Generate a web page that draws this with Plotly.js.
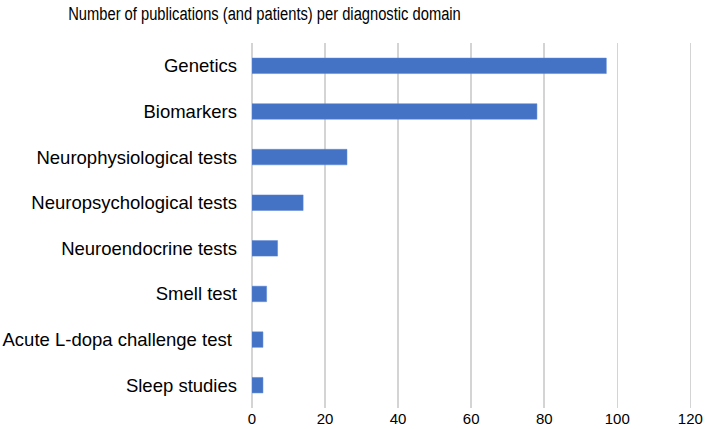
<!DOCTYPE html>
<html>
<head>
<meta charset="utf-8">
<script src="https://cdn.plot.ly/plotly-3.0.1.min.js"></script>
<style>html,body{margin:0;padding:0;background:#fff;}#chart{width:709px;height:429px;}</style>
</head>
<body>
<div id="chart"></div>
<script>
const categories = [
  "Genetics",
  "Biomarkers",
  "Neurophysiological tests",
  "Neuropsychological tests",
  "Neuroendocrine tests",
  "Smell test",
  "Acute L-dopa challenge test ",
  "Sleep studies"
];
const publications = [97, 78, 26, 14, 7, 4, 3, 3];
const xTicks = [0, 20, 40, 60, 80, 100, 120];
const titleText = "Number of publications (and patients) per diagnostic domain";

const trace = {
  type: "bar",
  orientation: "h",
  y: categories,
  x: publications,
  marker: {color: "#4472C4", line: {color: "#5b86d6", width: 0.5}},
  hoverinfo: "x+y"
};

const titleCx = 264.5;

const layout = {
  width: 709,
  height: 429,
  paper_bgcolor: "#fff",
  plot_bgcolor: "#fff",
  margin: {l: 252, r: 15, t: 43, b: 21},
  bargap: 0.66,
  showlegend: false,
  title: {
    text: titleText,
    font: {family: "Liberation Sans, Arial, sans-serif", size: 19, color: "#000"},
    xref: "container", x: titleCx/709, xanchor: "center",
    yref: "container", y: 1 - 13.5/429, yanchor: "middle"
  },
  xaxis: {
    range: [0, 121],
    tickvals: xTicks,
    ticktext: xTicks.map(String),
    showgrid: true,
    gridcolor: "#d4d4d4",
    gridwidth: 1.5,
    zeroline: true,
    zerolinecolor: "#d4d4d4",
    zerolinewidth: 1.5,
    showline: false,
    ticks: "",
    tickfont: {family: "Liberation Sans, Arial, sans-serif", size: 15, color: "#000"}
  },
  yaxis: {
    type: "category",
    categoryorder: "array",
    categoryarray: categories,
    autorange: "reversed",
    showgrid: false,
    zeroline: false,
    showline: false,
    ticks: "",
    ticklabelstandoff: 14,
    tickfont: {family: "Liberation Sans, Arial, sans-serif", size: 18.5, color: "#000"}
  }
};

Plotly.newPlot("chart", [trace], layout, {displayModeBar: false, staticPlot: true}).then(function (gd) {
  // The reference title is set in a condensed face; squeeze it horizontally around its centre.
  const t = gd.querySelector(".gtitle");
  if (t) {
    const prev = t.getAttribute("transform") || "";
    t.setAttribute("transform", "translate(" + titleCx + ",0) scale(0.775,1) translate(" + (-titleCx) + ",0) " + prev);
  }
});
</script>
</body>
</html>
